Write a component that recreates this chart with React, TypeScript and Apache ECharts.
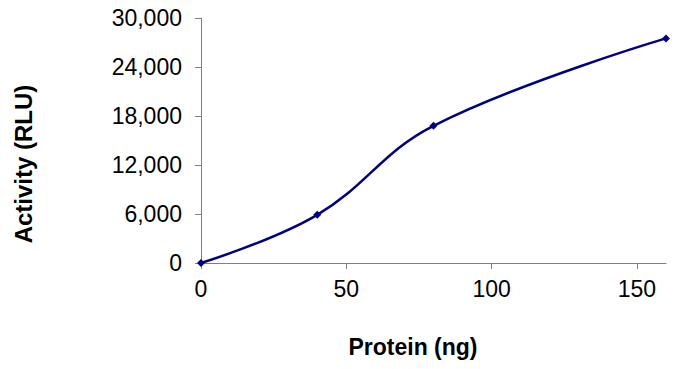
import React, { useEffect, useRef } from "react";
import * as echarts from "echarts";

const proteinNg = [0, 40, 80, 160];
const activityRlu = [0, 5900, 16800, 27500];
const yTicks = [0, 6000, 12000, 18000, 24000, 30000];
const xTitle = "Protein (ng)";
const yTitle = "Activity (RLU)";

export default function App() {
  const ref = useRef<HTMLDivElement>(null);
  useEffect(() => {
    const chart = echarts.init(ref.current!, null, { renderer: "svg" });
    const font = "'Liberation Sans', Arial, sans-serif";
    chart.setOption({
      animation: false,
      backgroundColor: "#ffffff",
      grid: { left: 201, right: 19, top: 18, bottom: 106, containLabel: false },
      graphic: [
        {
          type: "text",
          x: 413,
          y: 347,
          style: {
            text: xTitle,
            font: `bold 23px ${font}`,
            fill: "#000",
            align: "center",
            verticalAlign: "middle",
          },
        },
        {
          type: "text",
          x: 23,
          y: 164,
          rotation: Math.PI / 2,
          style: {
            text: yTitle,
            font: `bold 24px ${font}`,
            fill: "#000",
            align: "center",
            verticalAlign: "middle",
          },
        },
      ],
      xAxis: {
        type: "value",
        min: 0,
        max: 160,
        interval: 50,
        axisLine: { show: true, lineStyle: { color: "#808080", width: 1 } },
        axisTick: { show: true, inside: false, length: 6, lineStyle: { color: "#808080" } },
        axisLabel: {
          margin: 14,
          fontFamily: font,
          fontSize: 23,
          color: "#000",
          showMaxLabel: false,
          formatter: (v: number) => (v % 50 === 0 ? String(v) : ""),
        },
        splitLine: { show: false },
      },
      yAxis: {
        type: "value",
        min: 0,
        max: yTicks[yTicks.length - 1],
        interval: yTicks[1] - yTicks[0],
        axisLine: { show: true, lineStyle: { color: "#808080", width: 1 } },
        axisTick: { show: true, inside: false, length: 6, lineStyle: { color: "#808080" } },
        axisLabel: {
          margin: 19,
          fontFamily: font,
          fontSize: 23,
          color: "#000",
          formatter: (v: number) => v.toLocaleString("en-US"),
        },
        splitLine: { show: false },
      },
      series: [
        {
          type: "line",
          data: proteinNg.map((x, i) => [x, activityRlu[i]]),
          smooth: 0.4,
          symbol: "diamond",
          symbolSize: 8,
          itemStyle: { color: "#000080" },
          lineStyle: { color: "#000080", width: 2.5 },
        },
      ],
    });
    return () => chart.dispose();
  }, []);
  return <div ref={ref} style={{ width: 685, height: 369, position: "absolute", left: 0, top: 0 }} />;
}
